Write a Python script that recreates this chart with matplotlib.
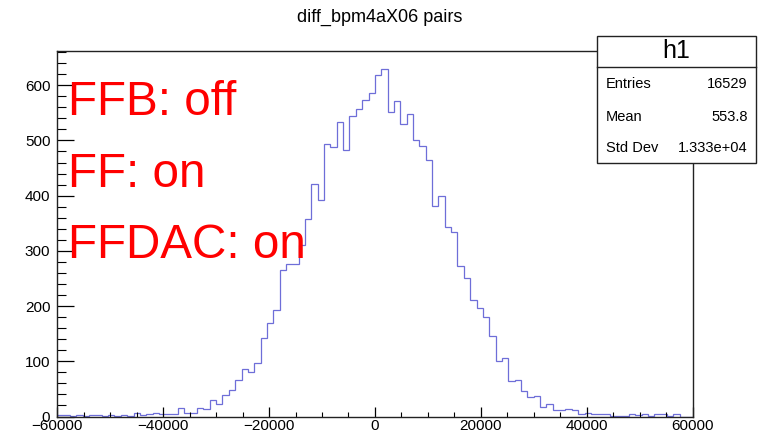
import numpy as np
import matplotlib
matplotlib.use("Agg")
import matplotlib.pyplot as plt
from matplotlib.patches import Rectangle
from matplotlib.lines import Line2D
from matplotlib.ticker import MultipleLocator

plt.rcParams['font.family'] = ['Liberation Sans', 'DejaVu Sans']

title = "diff_bpm4aX06 pairs"
x_min, x_max, n_bins = -60000, 60000, 100
counts = [
    2, 3, 1, 3, 1, 2, 2, 1, 2, 1,
    2, 1, 6, 3, 4, 6, 4, 5, 4, 15,
    6, 6, 16, 13, 29, 23, 39, 48, 67, 86,
    80, 97, 142, 170, 192, 266, 277, 276, 310, 357,
    421, 393, 493, 488, 533, 483, 544, 557, 573, 586,
    618, 630, 551, 572, 530, 547, 500, 490, 465, 382,
    399, 343, 334, 272, 251, 211, 196, 180, 146, 100,
    106, 65, 66, 46, 36, 38, 17, 22, 12, 12,
    14, 11, 5, 7, 4, 5, 5, 1, 1, 1,
    5, 3, 5, 1, 4, 4, 1, 4, 0, 0,
]
stats_name = "h1"
stats_labels = ["Entries", "Mean", "Std Dev"]
stats_values = ["16529", "553.8", "1.333e+04"]
notes = ["FFB: off", "FF: on", "FFDAC: on"]

W, H = 774, 432
fig = plt.figure(figsize=(W / 100, H / 100), dpi=100)
fig.patch.set_facecolor('white')

def fx(px):
    return px / W

def fy(py):
    return 1 - py / H

left, right, top, bottom = 57.3, 692.5, 51.0, 416.5
ax = fig.add_axes([fx(left), fy(bottom), fx(right) - fx(left), (bottom - top) / H])
edges = np.linspace(x_min, x_max, n_bins + 1)
ax.stairs(counts, edges, color='#6e6ed8', linewidth=0.9, baseline=None)
ax.set_xlim(x_min, x_max)
ax.set_ylim(0, 662)
ax.set_facecolor('white')
for s in ax.spines.values():
    s.set_linewidth(1.0)
    s.set_color('#222222')

ax.xaxis.set_major_locator(MultipleLocator(20000))
ax.xaxis.set_minor_locator(MultipleLocator(5000))
ax.yaxis.set_major_locator(MultipleLocator(100))
ax.yaxis.set_minor_locator(MultipleLocator(20))
ax.tick_params(axis='x', which='major', direction='in', length=7.5, width=0.9, labelsize=11, pad=1.5)
ax.tick_params(axis='x', which='minor', direction='in', length=3.8, width=0.8)
ax.tick_params(axis='y', which='major', direction='in', length=12.5, width=0.9, labelsize=11, pad=5)
ax.tick_params(axis='y', which='minor', direction='in', length=6.5, width=0.8)
ax.tick_params(top=False, right=False)

fig.text(fx(380), fy(17), title, ha='center', va='center', fontsize=13)

# red annotation text
ys = [115, 186.7, 258.3]
for t, yb in zip(notes, ys):
    fig.text(fx(67.5), fy(yb), t, ha='left', va='baseline', fontsize=34.3, color='#ff0000', zorder=10)

# stats box
bx0, bx1, by0, by1 = 597.3, 756.0, 35.7, 163.3
fig.patches.append(Rectangle((fx(bx0), fy(by1)), fx(bx1) - fx(bx0), (by1 - by0) / H,
                             transform=fig.transFigure, facecolor='white', edgecolor='#222222',
                             linewidth=1.0, zorder=5))
fig.lines.append(Line2D([fx(bx0), fx(bx1)], [fy(66.7), fy(66.7)], transform=fig.transFigure,
                        color='#222222', linewidth=1.0, zorder=6))
fig.text(fx((bx0 + bx1) / 2), fy(51.5), stats_name, ha='center', va='center', fontsize=18, zorder=7)
for lab, val, yy in zip(stats_labels, stats_values, [84, 116.7, 148.3]):
    fig.text(fx(606), fy(yy), lab, ha='left', va='center', fontsize=10.5, zorder=7)
    fig.text(fx(747.5), fy(yy), val, ha='right', va='center', fontsize=10.5, zorder=7)

fig.savefig('out.png', dpi=100, facecolor='white')
